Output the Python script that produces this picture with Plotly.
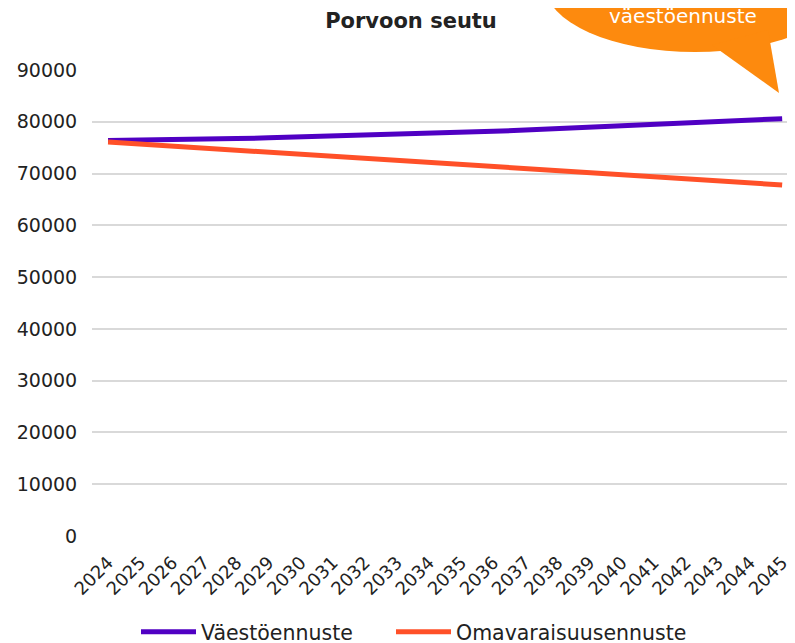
import plotly.graph_objects as go

years = [str(y) for y in range(2024, 2046)]
vaesto = [76400, 76450, 76500, 76600, 76750, 76900, 77050, 77200, 77350, 77500, 77700,
          77900, 78150, 78400, 78650, 78900, 79200, 79500, 79750, 80000, 80300, 80600]
omavar = [76100, 75700, 75300, 74900, 74500, 74100, 73700, 73300, 72950, 72550, 72150,
          71800, 71400, 71000, 70650, 70250, 69800, 69450, 69100, 68700, 68250, 67800]
y_ticks = [0, 10000, 20000, 30000, 40000, 50000, 60000, 70000, 80000, 90000]

FONT = "DejaVu Sans"
W, H = 795, 643
OFF = 8  # page body margin
L, R, T, B = 92 - OFF, OFF, 70 - OFF, H - (536 - OFF)
pw, ph = W - L - R, H - T - B

def px(x):
    return (x - OFF - L) / pw

def py(y):
    return (H - B - (y - OFF)) / ph

fig = go.Figure()
fig.add_trace(go.Scatter(x=years, y=vaesto, mode="lines", name="Väestöennuste",
                         legend="legend",
                         line=dict(color="#5000C3", width=5)))
fig.add_trace(go.Scatter(x=years, y=omavar, mode="lines", name="Omavaraisuusennuste",
                         legend="legend2",
                         line=dict(color="#FF5028", width=5)))

# speech bubble
cx, cy, rx, ry = 695, -15, 150, 67
fig.add_shape(type="circle", xref="paper", yref="paper",
              x0=px(cx - rx), x1=px(cx + rx), y0=py(cy + ry), y1=py(cy - ry),
              fillcolor="#FD8A0E", line=dict(width=0), layer="above")
fig.add_shape(type="path", xref="paper", yref="paper",
              path=f"M{px(712)},{py(45)} L{px(779)},{py(93)} L{px(768)},{py(30)} Z",
              fillcolor="#FD8A0E", line=dict(width=0), layer="above")
fig.add_annotation(xref="paper", yref="paper", x=px(683), y=py(16),
                   xanchor="center", yanchor="middle",
                   text="väestöennuste", showarrow=False,
                   font=dict(family=FONT, size=20, color="white"))

legend_common = dict(orientation="h", xref="container", xanchor="left",
                     yref="container", y=(H - (632 - OFF)) / H, yanchor="middle",
                     itemwidth=55, bgcolor="rgba(0,0,0,0)",
                     font=dict(family=FONT, size=20.5, color="#222222"))

fig.update_layout(
    width=W, height=H,
    margin=dict(l=L, r=R, t=T, b=B, autoexpand=False),
    paper_bgcolor="white", plot_bgcolor="white",
    title=dict(text="<b>Porvoon seutu</b>", x=(411 - OFF) / W, xref="container",
               xanchor="center", y=1 - (21 - OFF) / H, yref="container", yanchor="middle",
               font=dict(family=FONT, size=21, color="#222222")),
    xaxis=dict(type="category", range=[-0.5, 21.4], tickangle=-45, showgrid=False,
               automargin=False, ticks="outside", ticklen=8, tickcolor="rgba(0,0,0,0)",
               tickfont=dict(family=FONT, size=18, color="#222222")),
    yaxis=dict(range=[0, 90000], tickvals=y_ticks, ticktext=[str(v) for v in y_ticks],
               automargin=False,
               showgrid=True, gridcolor="#D9D9D9", gridwidth=1.5, zeroline=False,
               ticks="outside", ticklen=10, tickcolor="rgba(0,0,0,0)",
               tickfont=dict(family=FONT, size=19, color="#222222")),
    legend=dict(legend_common, x=(143 - OFF - 7) / W),
    legend2=dict(legend_common, x=(398 - OFF - 7) / W),
    showlegend=True,
)

fig.write_html("out.html")
